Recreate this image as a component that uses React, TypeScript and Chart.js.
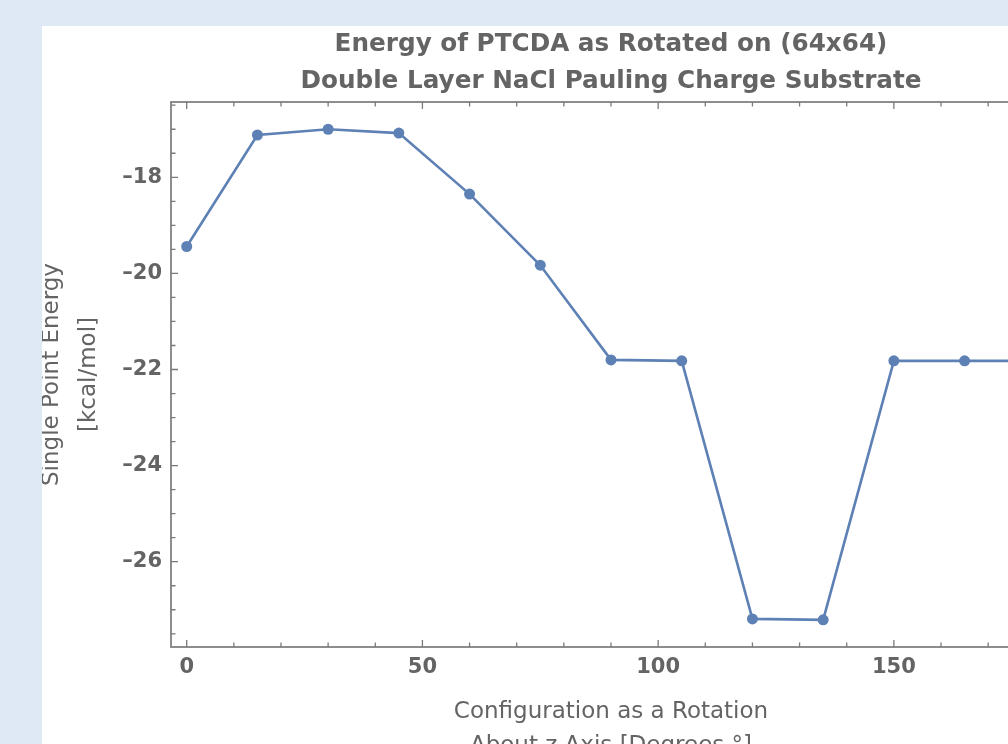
import React, { useEffect, useRef } from 'react';
import { Chart, registerables } from 'chart.js';

Chart.register(...registerables);

// ---- data ----
const angles = [0, 15, 30, 45, 60, 75, 90, 105, 120, 135, 150, 165, 180];
const energies = [-19.44, -17.12, -17.0, -17.08, -18.35, -19.83, -21.8, -21.82, -27.19, -27.21, -21.82, -21.82, -21.82];

const xMajorTicks = [0, 50, 100, 150];
const xMinorTicks = [10, 20, 30, 40, 60, 70, 80, 90, 110, 120, 130, 140, 160, 170, 180];
const yMajorTicks = [-26, -24, -22, -20, -18];
const yMinorTicks = [-27.5, -27, -26.5, -25.5, -25, -24.5, -23.5, -23, -22.5, -21.5, -21, -20.5, -19.5, -19, -18.5, -17.5, -17, -16.5];

const titleLines = ['Energy of PTCDA as Rotated on (64x64)', 'Double Layer NaCl Pauling Charge Substrate'];
const xTitleLines = ['Configuration as a Rotation', 'About z Axis [Degrees \u00b0]'];
const yTitleLines = ['Single Point Energy', '[kcal/mol]'];

const FONT = "'DejaVu Sans', Verdana, sans-serif";
const TEXT = '#646464';
const FRAME = '#7a7a7a';
const LINE = '#5e81b5';

const fmt = (v: number | string) => {
  const n = Number(v);
  return n < 0 ? '\u2013' + Math.abs(n) : String(n);
};

const framePlugin = {
  id: 'mmaFrame',
  beforeDatasetsDraw(chart: any) {
    const { ctx, chartArea: a, scales } = chart;
    const xs = scales.x;
    const ys = scales.y;
    ctx.save();
    ctx.strokeStyle = FRAME;
    ctx.lineWidth = 1.7;
    ctx.strokeRect(a.left, a.top, a.right - a.left, a.bottom - a.top);
    ctx.lineWidth = 1.3;
    ctx.beginPath();
    const tx = (v: number, len: number) => {
      const p = xs.getPixelForValue(v);
      ctx.moveTo(p, a.bottom);
      ctx.lineTo(p, a.bottom - len);
      ctx.moveTo(p, a.top);
      ctx.lineTo(p, a.top + len);
    };
    const ty = (v: number, len: number) => {
      const p = ys.getPixelForValue(v);
      ctx.moveTo(a.left, p);
      ctx.lineTo(a.left + len, p);
      ctx.moveTo(a.right, p);
      ctx.lineTo(a.right - len, p);
    };
    xMajorTicks.forEach((v) => tx(v, 7));
    xMinorTicks.forEach((v) => tx(v, 4.5));
    yMajorTicks.forEach((v) => ty(v, 7));
    yMinorTicks.forEach((v) => ty(v, 4.5));
    ctx.stroke();
    ctx.restore();
  },
};

export default function App() {
  const ref = useRef<HTMLCanvasElement | null>(null);

  useEffect(() => {
    if (!ref.current) return;
    const chart = new Chart(ref.current, {
      type: 'line',
      data: {
        datasets: [
          {
            data: angles.map((x, i) => ({ x, y: energies[i] })),
            borderColor: LINE,
            backgroundColor: LINE,
            borderWidth: 2.6,
            pointRadius: 5.5,
            pointBorderWidth: 0,
            pointBackgroundColor: LINE,
            tension: 0,
            clip: false as any,
          },
        ],
      },
      options: {
        responsive: false,
        animation: false,
        layout: { padding: { left: 0, top: 0, right: 21, bottom: 0 } },
        plugins: {
          legend: { display: false },
          tooltip: { enabled: false },
          title: {
            display: true,
            text: titleLines,
            fullSize: false,
            color: TEXT,
            font: { family: FONT, size: 24.7, weight: 'bold', lineHeight: '37px' },
            padding: { top: 0, bottom: 2 },
          },
        },
        scales: {
          x: {
            type: 'linear',
            min: -3.33,
            max: 183.33,
            grid: { display: false, drawTicks: false },
            border: { display: false },
            afterBuildTicks: (s: any) => {
              s.ticks = xMajorTicks.map((v) => ({ value: v }));
            },
            afterFit: (s: any) => {
              s.height = 116;
            },
            ticks: {
              autoSkip: false,
              maxRotation: 0,
              padding: 8,
              color: TEXT,
              font: { family: FONT, size: 21, weight: 'bold' },
              callback: fmt,
            },
            title: {
              display: true,
              text: xTitleLines,
              color: TEXT,
              font: { family: FONT, size: 23, lineHeight: '34px' },
              padding: { top: 0, bottom: 0 },
            },
          },
          y: {
            type: 'linear',
            min: -27.775,
            max: -16.433,
            grid: { display: false, drawTicks: false },
            border: { display: false },
            afterBuildTicks: (s: any) => {
              s.ticks = yMajorTicks.map((v) => ({ value: v }));
            },
            afterFit: (s: any) => {
              s.width = 129;
            },
            ticks: {
              autoSkip: false,
              padding: 9,
              color: TEXT,
              font: { family: FONT, size: 21, weight: 'bold' },
              callback: fmt,
            },
            title: {
              display: true,
              text: yTitleLines,
              color: TEXT,
              font: { family: FONT, size: 23, lineHeight: '36.5px' },
              padding: { top: -7.75, bottom: 0 },
            },
          },
        },
      } as any,
      plugins: [framePlugin],
    });
    return () => chart.destroy();
  }, []);

  return (
    <div
      style={{
        position: 'fixed',
        left: 0,
        top: 0,
        width: 1008,
        height: 744,
        overflow: 'hidden',
        background: '#dee9f5',
      }}
    >
      <div
        style={{
          position: 'absolute',
          left: 42,
          top: 26,
          width: 1040,
          height: 760,
          background: '#ffffff',
        }}
      >
        <canvas
          ref={ref}
          width={1030}
          height={737}
          style={{ position: 'absolute', left: 0, top: 0, width: 1030, height: 737 }}
        />
      </div>
    </div>
  );
}
